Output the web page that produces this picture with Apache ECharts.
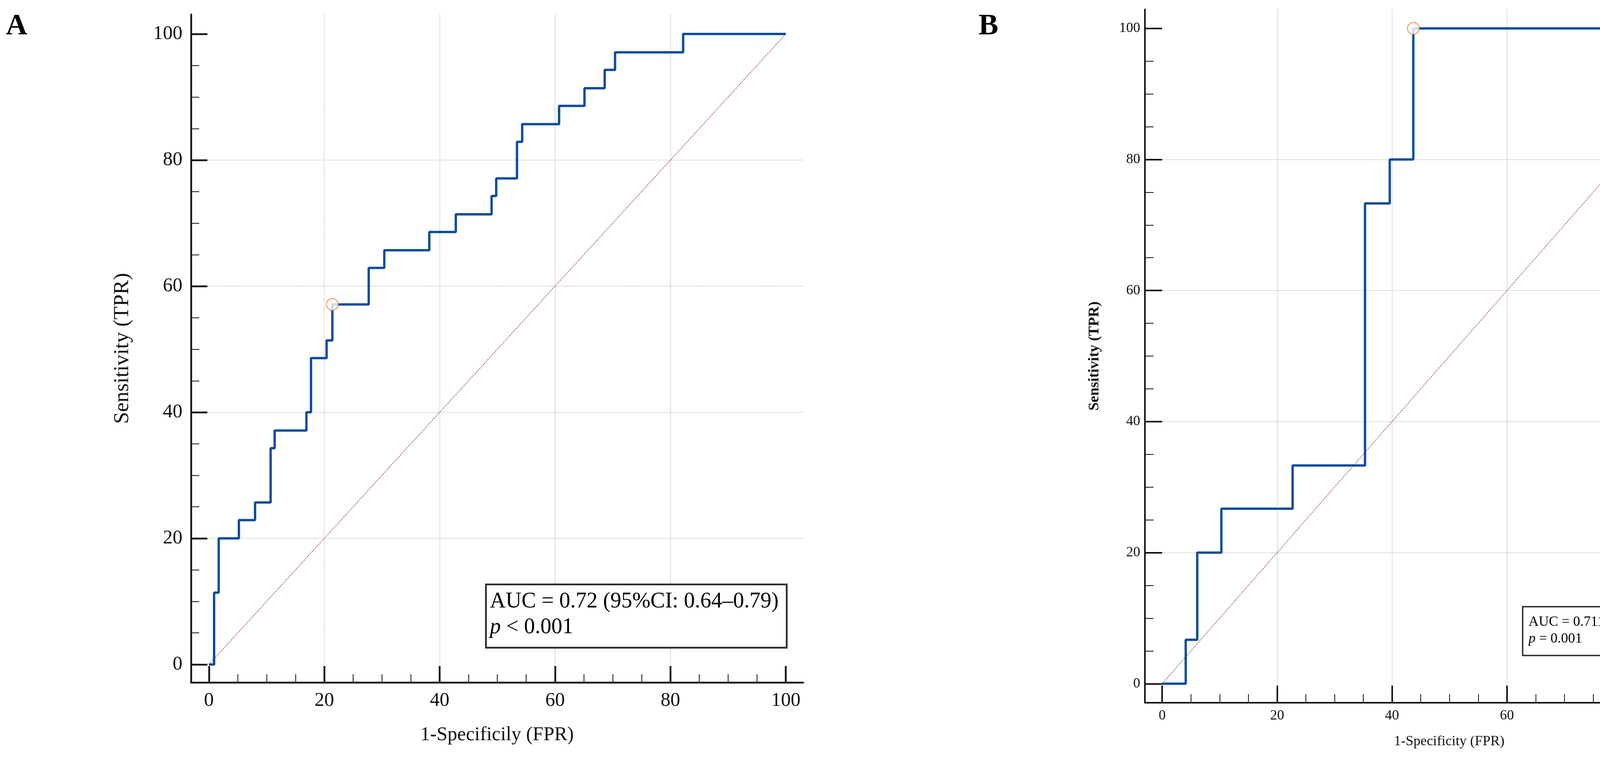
<!DOCTYPE html>
<html>
<head>
<meta charset="utf-8">
<script src="https://cdn.jsdelivr.net/npm/echarts@6.0.0/dist/echarts.min.js"></script>
<style>
  html, body { margin: 0; padding: 0; background: #fff; }
  #main { width: 4520px; height: 1939px; }
</style>
</head>
<body>
<div id="main"></div>
<script>
// ROC A: step corners [FPR, TPR], curve jumps up at each FPR
var rocA = [
  [0, 0], [0.9, 11.4], [1.7, 20], [5.2, 22.9], [8.0, 25.7], [10.7, 34.3],
  [11.4, 37.1], [16.9, 40], [17.7, 48.6], [20.4, 51.4], [21.4, 57.1],
  [27.7, 62.9], [30.4, 65.7], [38.2, 68.6], [42.8, 71.4], [49.0, 74.3],
  [49.8, 77.1], [53.4, 82.9], [54.3, 85.7], [60.7, 88.6], [65.1, 91.4],
  [68.6, 94.3], [70.4, 97.1], [82.2, 100], [100, 100]
];
// ROC B
var rocB = [
  [0, 0], [4.1, 6.7], [6.1, 20], [10.3, 26.7], [22.7, 33.3],
  [35.3, 73.3], [39.6, 80], [43.7, 100], [100, 100]
];
// cut-off points
var cutA = [[21.4, 57.1]];
var cutB = [[43.7, 100]];
// chance line
var diag = [[0, 0], [100, 100]];

var majorTicks = [0, 20, 40, 60, 80, 100];
var minorTicks = [5, 10, 15, 25, 30, 35, 45, 50, 55, 65, 70, 75, 85, 90, 95];

var labelA = 'AUC = 0.72 (95%CI: 0.64\u20130.79)';
var pA = ' < 0.001';
var labelB = 'AUC = 0.711 (95%CI: 0.58\u20130.82)';
var pB = ' = 0.001';

var serif = '"Liberation Serif", "Times New Roman", serif';

function mainAxis(grid, pos, mn, mx, name, nameGap, fs, nameFs, nameBold, margin, lw, tickLen) {
  return {
    gridIndex: grid, type: 'value', position: pos, min: mn, max: mx,
    axisLine: {show: true, onZero: false, lineStyle: {color: '#111', width: lw}},
    axisTick: {show: true, inside: true, length: tickLen, customValues: majorTicks,
               lineStyle: {color: '#111', width: lw}},
    axisLabel: {customValues: majorTicks, margin: margin, fontSize: fs,
                fontFamily: serif, color: '#111'},
    splitLine: {show: true, showMinLine: false, showMaxLine: false,
                lineStyle: {color: '#bdbdbd', width: 2, type: 'dotted'}},
    minorTick: {show: false},
    name: name, nameLocation: 'middle', nameGap: nameGap,
    nameTextStyle: {fontSize: nameFs, fontFamily: serif, color: '#111',
                    fontWeight: nameBold ? 'bold' : 'normal'}
  };
}
function minorAxis(grid, pos, mn, mx, tickLen) {
  return {
    gridIndex: grid, type: 'value', position: pos, min: mn, max: mx,
    axisLine: {show: false, onZero: false},
    axisTick: {show: true, inside: true, length: tickLen, customValues: minorTicks,
               lineStyle: {color: '#111', width: 2}},
    axisLabel: {show: false},
    splitLine: {show: false}
  };
}

var myChart = echarts.init(document.getElementById('main'));
var option = {
  backgroundColor: '#fff',
  animation: false,
  grid: [
    {left: 489, top: 37, width: 1567, height: 1711},
    {left: 2931, top: 24, width: 1558, height: 1776}
  ],
  xAxis: [
    mainAxis(0, 'bottom', -3.1, 103, '1-Specificily (FPR)', 110, 50, 50, false, 22, 4.5, 42),
    minorAxis(0, 'bottom', -3.1, 103, 21),
    mainAxis(1, 'bottom', -3.0, 102.9, '1-Specificity (FPR)', 82, 36, 36, false, 16, 4, 44),
    minorAxis(1, 'bottom', -3.0, 102.9, 22)
  ],
  yAxis: [
    mainAxis(0, 'left', -2.85, 103.1, 'Sensitivity (TPR)', 148, 50, 55, false, 22, 4.5, 42),
    minorAxis(0, 'left', -2.85, 103.1, 21),
    mainAxis(1, 'left', -2.9, 102.9, 'Sensitivity (TPR)', 110, 36, 38, true, 12, 4, 44),
    minorAxis(1, 'left', -2.9, 102.9, 22)
  ],
  series: [
    {type: 'line', xAxisIndex: 0, yAxisIndex: 0, data: diag, symbol: 'none', z: 2,
     lineStyle: {color: '#b5727c', width: 2, type: [4, 2]}},
    {type: 'line', xAxisIndex: 0, yAxisIndex: 0, data: rocA, step: 'end', symbol: 'none', z: 3,
     lineStyle: {color: '#0b4c9e', width: 6}},
    {type: 'scatter', xAxisIndex: 0, yAxisIndex: 0, data: cutA, symbol: 'circle', symbolSize: 30, z: 4,
     itemStyle: {color: '#fff', borderColor: '#e8873a', borderWidth: 2.5}},
    {type: 'line', xAxisIndex: 2, yAxisIndex: 2, data: diag, symbol: 'none', z: 2,
     lineStyle: {color: '#b5727c', width: 2, type: [4, 2]}},
    {type: 'line', xAxisIndex: 2, yAxisIndex: 2, data: rocB, step: 'end', symbol: 'none', z: 3,
     lineStyle: {color: '#0b4c9e', width: 6}},
    {type: 'scatter', xAxisIndex: 2, yAxisIndex: 2, data: cutB, symbol: 'circle', symbolSize: 30, z: 4,
     itemStyle: {color: '#fff', borderColor: '#e8873a', borderWidth: 2.5}}
  ],
  graphic: [
    // panel letters
    {type: 'text', left: 15, top: 30, z: 10,
     style: {text: 'A', font: 'bold 76px ' + serif, fill: '#000'}},
    {type: 'text', left: 2505, top: 30, z: 10,
     style: {text: 'B', font: 'bold 76px ' + serif, fill: '#000'}},
    // AUC box A
    {type: 'rect', z: 10, shape: {x: 1244, y: 1497, width: 770, height: 162},
     style: {fill: '#fff', stroke: '#2a2a2a', lineWidth: 4.5}},
    {type: 'text', z: 11, x: 1254, y: 1541,
     style: {text: labelA, font: '56px ' + serif, fill: '#000', verticalAlign: 'middle'}},
    {type: 'text', z: 11, x: 1254, y: 1607,
     style: {text: '{i|p}{r|' + pA + '}', verticalAlign: 'middle',
             rich: {i: {fontSize: 56, fontFamily: serif, fontStyle: 'italic', fill: '#000'},
                    r: {fontSize: 56, fontFamily: serif, fill: '#000'}}}},
    // AUC box B
    {type: 'rect', z: 10, shape: {x: 3898, y: 1554, width: 550, height: 125},
     style: {fill: '#fff', stroke: '#2a2a2a', lineWidth: 3.5}},
    {type: 'text', z: 11, x: 3913, y: 1594,
     style: {text: labelB, font: '36px ' + serif, fill: '#000', verticalAlign: 'middle'}},
    {type: 'text', z: 11, x: 3913, y: 1637,
     style: {text: '{i|p}{r|' + pB + '}', verticalAlign: 'middle',
             rich: {i: {fontSize: 36, fontFamily: serif, fontStyle: 'italic', fill: '#000'},
                    r: {fontSize: 36, fontFamily: serif, fill: '#000'}}}}
  ]
};
myChart.setOption(option);
</script>
</body>
</html>
